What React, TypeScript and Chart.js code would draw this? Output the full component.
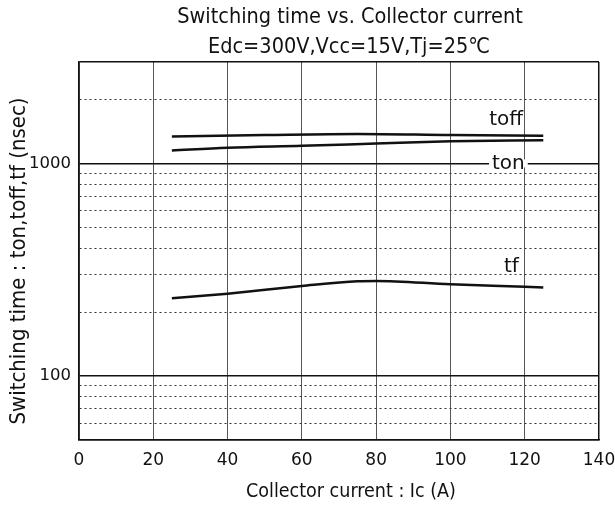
import React, { useEffect, useRef } from 'react';
import { Chart, registerables } from 'chart.js';

Chart.register(...registerables);

const NARROW = "'Liberation Sans Narrow', 'DejaVu Sans Condensed', 'Liberation Sans', sans-serif";
const WIDE = "'DejaVu Sans', 'Liberation Sans', sans-serif";

const titleLines = ['Switching time vs. Collector current', 'Edc=300V,Vcc=15V,Tj=25\u2103'];
const xTitle = 'Collector current : Ic (A)';
const yTitle = 'Switching time : ton,toff,tf (nsec)';

const toffX = [25, 50, 75, 100, 125];
const toffY = [1340, 1360, 1375, 1360, 1350];
const tonX = [25, 40, 60, 80, 100, 125];
const tonY = [1150, 1185, 1210, 1240, 1270, 1285];
const tfX = [25, 40, 60, 75, 80, 100, 120, 125];
const tfY = [232, 244, 265, 279, 280, 270, 263, 261];

const yTickValues = [50, 60, 70, 80, 90, 100, 200, 300, 400, 500, 600, 700, 800, 900, 1000, 2000, 3000];
const yLabeled = [100, 1000];
const yMajor = [50, 100, 1000, 3000];

const seriesNames = ['toff', 'ton', 'tf'];
const seriesLabelX = [115, 115.6, 116.4];
const seriesLabelY = [1609, 1000, 328];

const toPoints = (xs: number[], ys: number[]) => xs.map((x, i) => ({ x, y: ys[i] }));

const titlePlugin = {
  id: 'customTitles',
  afterDraw(chart: any) {
    const { ctx } = chart;
    ctx.save();
    ctx.fillStyle = '#111';
    ctx.textAlign = 'center';
    ctx.textBaseline = 'middle';
    ctx.font = `21.5px ${NARROW}`;
    ctx.fillText(titleLines[0], 350, 17);
    ctx.fillText(titleLines[1], 349, 47);
    ctx.font = `19.5px ${NARROW}`;
    ctx.fillText(xTitle, 351, 492);
    ctx.translate(19, 261);
    ctx.rotate(-Math.PI / 2);
    ctx.font = `22px ${NARROW}`;
    ctx.fillText(yTitle, 0, 0);
    ctx.restore();
  },
};

const labelPlugin = {
  id: 'seriesLabels',
  afterDatasetsDraw(chart: any) {
    const { ctx, scales } = chart;
    ctx.save();
    ctx.font = `20px ${WIDE}`;
    ctx.textAlign = 'center';
    ctx.textBaseline = 'middle';
    seriesNames.forEach((name, i) => {
      const px = scales.x.getPixelForValue(seriesLabelX[i]);
      const py = scales.y.getPixelForValue(seriesLabelY[i]);
      if (name === 'ton') {
        const w = ctx.measureText(name).width + 6;
        ctx.fillStyle = '#fff';
        ctx.fillRect(px - w / 2, py - 4, w, 8);
      }
      ctx.fillStyle = '#111';
      ctx.fillText(name, px, py);
    });
    ctx.restore();
  },
};

export default function App() {
  const ref = useRef<HTMLCanvasElement | null>(null);
  useEffect(() => {
    document.body.style.margin = '0';
    const canvas = ref.current;
    if (!canvas) return;
    const lineDs = (label: string, data: any[]) => ({
      label,
      data,
      borderColor: '#111',
      borderWidth: 2.5,
      pointRadius: 0,
      fill: false,
      cubicInterpolationMode: 'monotone' as const,
    });
    const chart = new Chart(canvas, {
      type: 'line',
      data: {
        datasets: [
          lineDs('toff', toPoints(toffX, toffY)),
          lineDs('ton', toPoints(tonX, tonY)),
          lineDs('tf', toPoints(tfX, tfY)),
        ],
      },
      options: {
        animation: false,
        responsive: false,
        devicePixelRatio: 1,
        layout: { padding: { left: 0, right: 16, top: 62, bottom: 0 } },
        plugins: {
          legend: { display: false },
          tooltip: { enabled: false },
          title: { display: false },
        },
        scales: {
          x: {
            type: 'linear',
            min: 0,
            max: 140,
            afterFit: (s: any) => {
              s.height = 69;
              s.paddingLeft = 0;
              s.paddingRight = 0;
            },
            ticks: {
              stepSize: 20,
              color: '#111',
              padding: 10,
              maxRotation: 0,
              font: { family: WIDE, size: 17 },
            },
            grid: {
              drawTicks: false,
              color: (c: any) => (c.tick && c.tick.value === 140 ? '#111' : '#555'),
              lineWidth: (c: any) => (c.tick && c.tick.value === 140 ? 1.5 : 1),
            },
            border: { display: true, color: '#111', width: 1.5 },
            title: { display: false },
          },
          y: {
            type: 'logarithmic',
            min: 50,
            max: 3000,
            afterFit: (s: any) => {
              s.width = 79;
              s.paddingTop = 0;
              s.paddingBottom = 0;
            },
            afterBuildTicks: (s: any) => {
              s.ticks = yTickValues.map((v) => ({ value: v }));
            },
            ticks: {
              autoSkip: false,
              color: '#111',
              padding: 8,
              font: { family: WIDE, size: 16.5 },
              callback: (v: any) => (yLabeled.includes(Number(v)) ? String(v) : ''),
            },
            grid: {
              drawTicks: false,
              color: (c: any) => (c.tick && yMajor.includes(c.tick.value) ? '#111' : '#333'),
              lineWidth: (c: any) => (c.tick && yMajor.includes(c.tick.value) ? 1.5 : 1),
            },
            border: {
              display: true,
              color: '#111',
              width: 1.5,
              dash: (c: any) => (c.tick && !yMajor.includes(c.tick.value) ? [2, 3] : []),
            } as any,
            title: { display: false },
          },
        },
      } as any,
      plugins: [labelPlugin, titlePlugin],
    });
    return () => chart.destroy();
  }, []);
  return <canvas ref={ref} width={615} height={509} style={{ display: 'block' }} />;
}
